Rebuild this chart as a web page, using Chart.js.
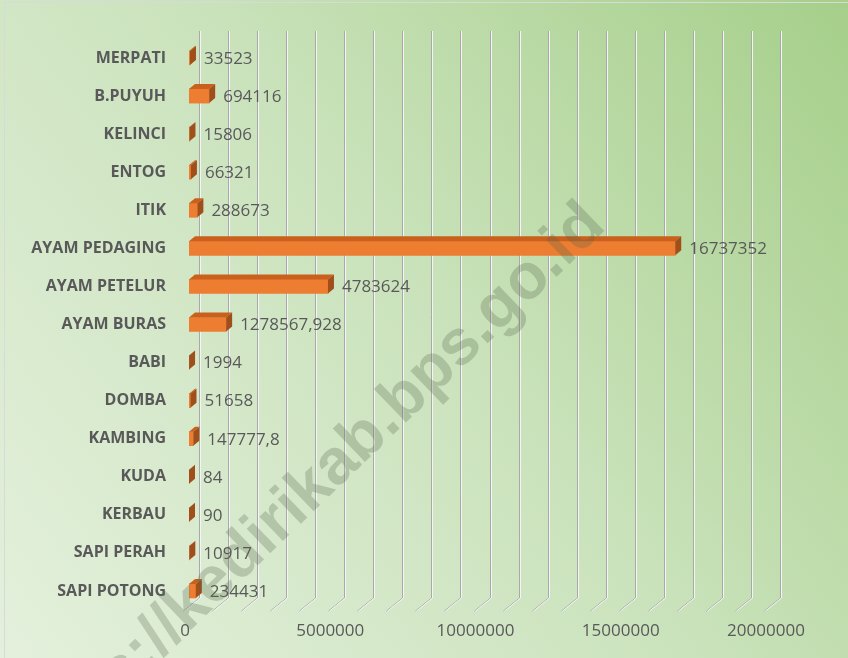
<!DOCTYPE html>
<html>
<head>
<meta charset="utf-8">
<script src="https://cdn.jsdelivr.net/npm/chart.js@4"></script>
<style>
html,body{margin:0;padding:0;background:#fff;}
canvas{display:block;}
</style>
</head>
<body>
<canvas id="c" width="848" height="658"></canvas>
<script>
const categories = ['MERPATI','B.PUYUH','KELINCI','ENTOG','ITIK','AYAM PEDAGING','AYAM PETELUR','AYAM BURAS','BABI','DOMBA','KAMBING','KUDA','KERBAU','SAPI PERAH','SAPI POTONG'];
const populasi = [33523,694116,15806,66321,288673,16737352,4783624,1278567.928,1994,51658,147777.8,84,90,10917,234431];
const axisMin = 0;
const axisMax = 20000000;
const gridStep = 1000000;
const labelStep = 5000000;
const watermark = 'https://kedirikab.bps.go.id';

const DX = 6, DY = 5;       // bar depth
const BACK_DX = 10;         // back wall offset
const FRONT_DX = -16, FRONT_DY = 13;

const bgPlugin = {
  id: 'bg',
  beforeDraw(chart) {
    const ctx = chart.ctx, w = chart.width, h = chart.height;
    ctx.save();
    const g = ctx.createLinearGradient(0, h, w, 0);
    g.addColorStop(0, '#e4f0dc');
    g.addColorStop(0.5, '#cbe3bd');
    g.addColorStop(1, '#a6cf8a');
    ctx.fillStyle = g;
    ctx.fillRect(0, 0, w, h);
    ctx.strokeStyle = '#d9d9d9';
    ctx.lineWidth = 1;
    ctx.strokeRect(4.5, 2.5, w + 10, h + 10);
    ctx.restore();
  }
};

const gridPlugin = {
  id: 'grid3d',
  beforeDatasetsDraw(chart) {
    const ctx = chart.ctx, xs = chart.scales.x, area = chart.chartArea;
    const top = 31, bottom = area.bottom - 12;
    ctx.save();
    for (let v = axisMin; v <= axisMax; v += gridStep) {
      const x = Math.round(xs.getPixelForValue(v)) + BACK_DX;
      const pts = [[x, top], [x, bottom], [x + FRONT_DX, bottom + FRONT_DY]];
      [[ '#a9a9a9', 0.5 ], [ '#f4f4f4', 1.5 ]].forEach(([col, off]) => {
        ctx.strokeStyle = col;
        ctx.lineWidth = 1;
        ctx.beginPath();
        ctx.moveTo(pts[0][0] + off, pts[0][1]);
        ctx.lineTo(pts[1][0] + off, pts[1][1]);
        ctx.lineTo(pts[2][0] + off, pts[2][1]);
        ctx.stroke();
      });
    }
    ctx.restore();
  }
};

const bar3dPlugin = {
  id: 'bar3d',
  afterDatasetsDraw(chart) {
    const ctx = chart.ctx;
    const meta = chart.getDatasetMeta(0);
    ctx.save();
    meta.data.forEach((el, i) => {
      const p = el.getProps(['x', 'y', 'base', 'height'], true);
      const x0 = Math.min(p.base, p.x), x1 = Math.max(p.base, p.x);
      const yT = p.y - p.height / 2, yB = p.y + p.height / 2;
      ctx.fillStyle = '#c9601c';
      ctx.beginPath();
      ctx.moveTo(x0, yT);
      ctx.lineTo(x0 + DX, yT - DY);
      ctx.lineTo(x1 + DX, yT - DY);
      ctx.lineTo(x1, yT);
      ctx.closePath();
      ctx.fill();
      ctx.fillStyle = '#a04f1b';
      ctx.beginPath();
      ctx.moveTo(x1, yT);
      ctx.lineTo(x1 + DX, yT - DY);
      ctx.lineTo(x1 + DX, yB - DY);
      ctx.lineTo(x1, yB);
      ctx.closePath();
      ctx.fill();
      const v = populasi[i];
      ctx.fillStyle = '#595959';
      ctx.font = '17px "Open Sans"';
      ctx.textAlign = 'left';
      ctx.textBaseline = 'middle';
      ctx.fillText(String(v).replace('.', ','), x1 + DX + 8, p.y + 1);
    });
    ctx.restore();
  }
};

const wmPlugin = {
  id: 'wm',
  afterDraw(chart) {
    const ctx = chart.ctx;
    ctx.save();
    ctx.translate(592, 212);
    ctx.rotate(-44 * Math.PI / 180);
    ctx.font = 'bold 64px "Liberation Sans"';
    ctx.fillStyle = 'rgba(85,100,75,0.27)';
    ctx.textAlign = 'right';
    ctx.textBaseline = 'alphabetic';
    ctx.fillText(watermark, 0, 22);
    ctx.restore();
  }
};

new Chart(document.getElementById('c'), {
  type: 'bar',
  data: {
    labels: categories,
    datasets: [{
      data: populasi,
      backgroundColor: '#ed7d31',
      borderWidth: 0,
      barThickness: 14
    }]
  },
  options: {
    indexAxis: 'y',
    responsive: false,
    animation: false,
    layout: { padding: { top: 39, left: 0, right: 78, bottom: 0 } },
    plugins: { legend: { display: false }, tooltip: { enabled: false } },
    scales: {
      x: {
        min: axisMin, max: axisMax,
        grid: { display: false, drawTicks: false },
        border: { display: false },
        ticks: {
          stepSize: gridStep,
          autoSkip: false,
          maxRotation: 0,
          labelOffset: -4,
          padding: 11,
          color: '#595959',
          font: { family: 'Open Sans', size: 17 },
          callback: (v) => (v % labelStep === 0 ? String(v) : '')
        },
        afterFit: (s) => { s.height = 48; }
      },
      y: {
        grid: { display: false, drawTicks: false },
        border: { display: false },
        ticks: {
          padding: 23,
          color: '#595959',
          font: { family: 'Open Sans', size: 16, weight: 'bold' }
        },
        afterFit: (s) => { s.width = 189; }
      }
    }
  },
  plugins: [bgPlugin, gridPlugin, bar3dPlugin, wmPlugin]
});
</script>
</body>
</html>
